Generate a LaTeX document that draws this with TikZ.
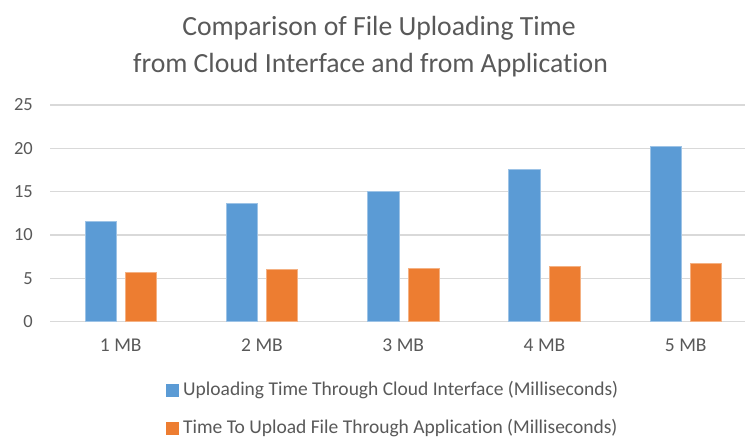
\documentclass[tikz,border=0pt]{standalone}
\usepackage{fontspec}
\setmainfont[Ligatures=NoCommon]{Carlito}
\definecolor{txt}{HTML}{595959}
\definecolor{grid}{HTML}{D9D9D9}
\definecolor{cblue}{HTML}{5B9BD5}
\definecolor{corange}{HTML}{ED7D31}
\begin{document}
\begin{tikzpicture}[x=1pt,y=-1pt,
  gridline/.style={draw=grid,line width=1.3pt},
  tick/.style={text=txt,font=\fontsize{18.5}{20}\selectfont,anchor=east,inner sep=0pt},
  cat/.style={text=txt,font=\fontsize{19.5}{20}\selectfont,inner sep=0pt},
  bluebar/.style={fill=cblue,draw=cblue!60!white,line width=0.6pt},
  orangebar/.style={fill=corange,draw=corange!60!white,line width=0.6pt},
  legtext/.style={text=txt,font=\fontsize{19.5}{20}\selectfont,anchor=west,inner sep=0pt},
  titletext/.style={text=txt,font=\fontsize{27.7}{30}\selectfont,anchor=base,inner sep=0pt}]
\useasboundingbox (0,0) rectangle (748,439);
\fill[white] (0,0) rectangle (748,439);
% title
\node[titletext] (title1) at (379,35) {Comparison of File Uploading Time};
\node[titletext] (title2) at (370.5,72) {from Cloud Interface and from Application};
% grid and ticks
\foreach \v in {0,5,...,25}{
  \draw[gridline] (50,{321.5-8.66*\v}) -- (745,{321.5-8.66*\v});
  \node[tick] (t\v) at (33,{321.5-8.66*\v}) {\v};
}
% bars
\foreach \i/\b/\o in {0/11.57/5.63,1/13.65/6.03,2/15.0/6.2,3/17.57/6.37,4/20.2/6.72}{
  \pgfmathsetmacro{\xl}{85+141.25*\i}
  \draw[bluebar] (\xl,321.5) rectangle ({\xl+31.5},{321.5-8.66*\b});
  \draw[orangebar] ({\xl+40.5},321.5) rectangle ({\xl+71.5},{321.5-8.66*\o});
  \pgfmathtruncatemacro{\n}{\i+1}
  \node[cat] (c\n) at ({\xl+35.75},345) {\n\ MB};
}
% legend
\fill[cblue] (166,384) rectangle (179,397);
\node[legtext] (l1) at (183,390.5) {Uploading Time Through Cloud Interface (Milliseconds)};
\fill[corange] (166,422) rectangle (179,435);
\node[legtext] (l2) at (183,428.5) {Time To Upload File Through Application (Milliseconds)};
\end{tikzpicture}
\end{document}
